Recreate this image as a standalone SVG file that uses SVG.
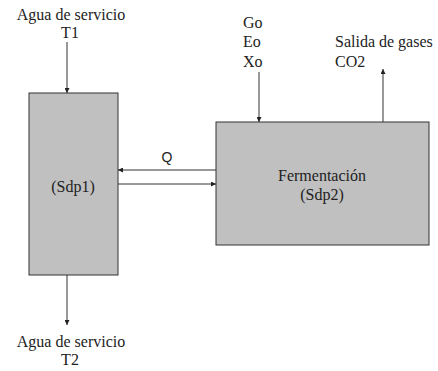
<svg xmlns="http://www.w3.org/2000/svg" width="438" height="371" viewBox="0 0 438 371">
<style>
.box{fill:#c0c0c0;stroke:#333;stroke-width:1}
.t{font-family:"Liberation Serif","Times New Roman",serif;font-size:16px;fill:#222}
.s{font-family:"Liberation Sans",Arial,sans-serif;font-size:14px;fill:#222}
.c{stroke:#333;stroke-width:1;fill:none;marker-end:url(#ah)}
</style>
<defs>
<marker id="ah" viewBox="0 0 6 6" refX="6" refY="3" markerWidth="5" markerHeight="5" orient="auto" markerUnits="userSpaceOnUse">
<path d="M0,0 L6,3 L0,6 z" fill="#222"/>
</marker>
</defs>
<rect width="438" height="371" fill="#fff"/>
<g id="sdp1">
<rect class="box" x="29" y="93" width="89" height="182"/>
<text class="t" x="73" y="192" text-anchor="middle">(Sdp1)</text>
</g>
<g id="sdp2">
<rect class="box" x="216" y="122" width="213" height="123"/>
<text class="t" x="322" y="181" text-anchor="middle">Fermentación</text>
<text class="t" x="322" y="200" text-anchor="middle">(Sdp2)</text>
</g>
<g id="labels">
<text class="t" x="71" y="20" text-anchor="middle">Agua de servicio</text>
<text class="t" x="70" y="38" text-anchor="middle">T1</text>
<text class="t" x="243" y="28">Go</text>
<text class="t" x="243" y="47">Eo</text>
<text class="t" x="243" y="67">Xo</text>
<text class="t" x="335" y="47">Salida de gases</text>
<text class="t" x="335" y="67">CO2</text>
<text class="s" x="167" y="162" text-anchor="middle">Q</text>
<text class="t" x="71" y="347" text-anchor="middle">Agua de servicio</text>
<text class="t" x="70" y="365" text-anchor="middle">T2</text>
</g>
<g id="connectors">
<line class="c" x1="67" y1="42" x2="67" y2="93"/>
<line class="c" x1="259" y1="72" x2="259" y2="122"/>
<line class="c" x1="383" y1="122" x2="383" y2="69"/>
<line class="c" x1="216" y1="170" x2="118" y2="170"/>
<line class="c" x1="118" y1="184" x2="216" y2="184"/>
<line class="c" x1="67" y1="275" x2="67" y2="325"/>
</g>
</svg>
